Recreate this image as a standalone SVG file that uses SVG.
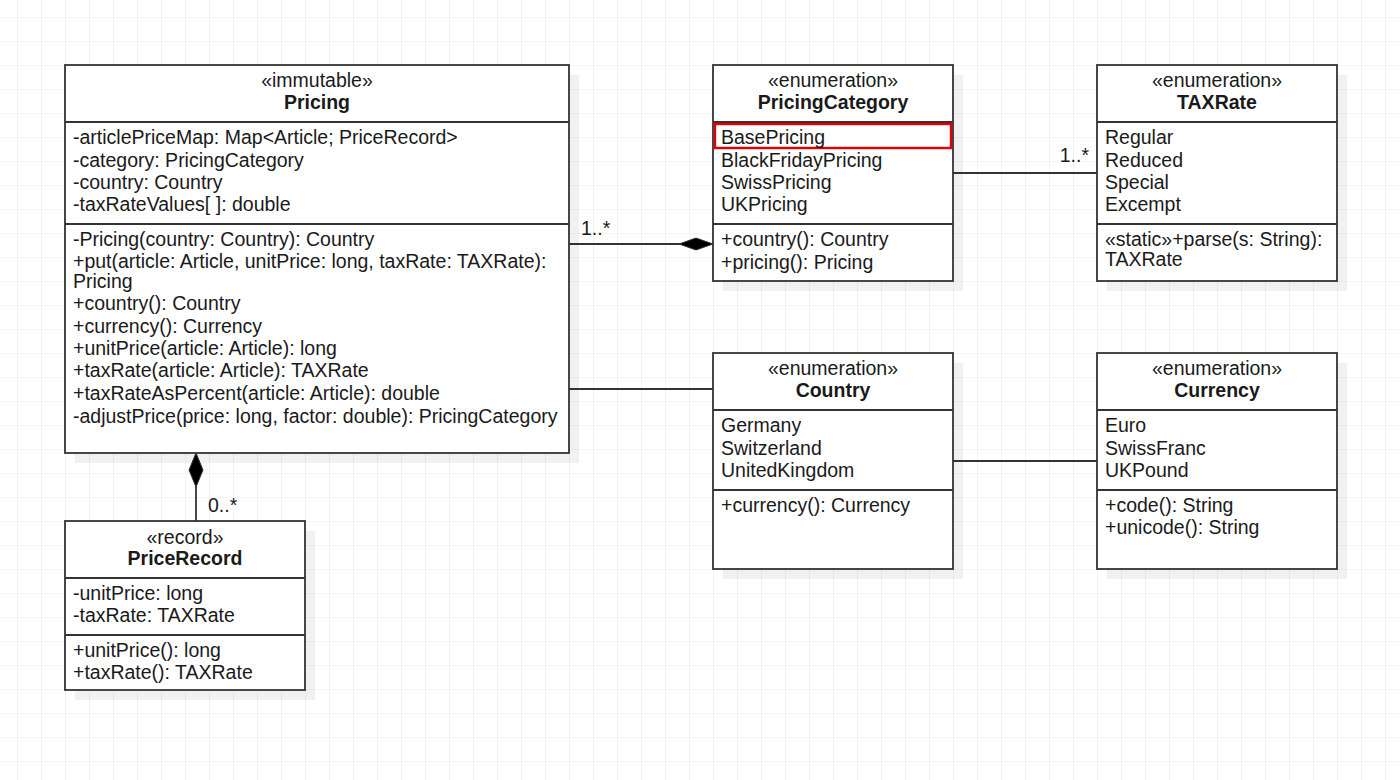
<svg xmlns="http://www.w3.org/2000/svg" width="1400" height="780" viewBox="0 0 1400 780">
<defs>
<pattern id="grid" x="17" y="17" width="24" height="24" patternUnits="userSpaceOnUse">
<path d="M0 0 H24 M0 0 V24" fill="none" stroke="#ebebeb" stroke-width="1.2"/>
</pattern>
<style>
text{font-family:"Liberation Sans",Arial,sans-serif;font-size:19.5px;fill:#1a1a1a}
.c{text-anchor:middle}
.b{font-weight:bold}
.box{fill:#fff;stroke:#333;stroke-width:1.8}
.sh{fill:#000;fill-opacity:0.055}
.sep{stroke:#333;stroke-width:1.8}
.ln{stroke:#333;stroke-width:1.8;fill:none}
.dia{fill:#000;stroke:#333;stroke-width:1}
</style>
</defs>
<rect width="1400" height="780" fill="#fff"/>
<rect width="1400" height="780" fill="url(#grid)"/>

<g id="connectors">
<line class="ln" x1="569" y1="244" x2="680" y2="244"/>
<polygon class="dia" points="713,244 696,238 679,244 696,250"/>
<text x="581" y="235">1..*</text>
<line class="ln" x1="953" y1="173" x2="1097" y2="173"/>
<text x="1089" y="162" text-anchor="end">1..*</text>
<line class="ln" x1="569" y1="389" x2="713" y2="389"/>
<line class="ln" x1="953" y1="461" x2="1097" y2="461"/>
<line class="ln" x1="196" y1="486" x2="196" y2="521"/>
<polygon class="dia" points="196,453 203,470 196,487 189,470"/>
<text x="208" y="511.5">0..*</text>
</g>

<g id="Pricing">
<rect class="sh" x="75" y="75" width="504" height="388"/>
<rect class="box" x="65" y="65" width="504" height="388"/>
<text class="c" x="317" y="87">«immutable»</text>
<text class="c b" x="317" y="109">Pricing</text>
<line class="sep" x1="65" y1="122" x2="569" y2="122"/>
<text x="73" y="144">-articlePriceMap: Map&lt;Article; PriceRecord&gt;</text>
<text x="73" y="166.5">-category: PricingCategory</text>
<text x="73" y="189">-country: Country</text>
<text x="73" y="211">-taxRateValues[ ]: double</text>
<line class="sep" x1="65" y1="224" x2="569" y2="224"/>
<text x="73" y="246">-Pricing(country: Country): Country</text>
<text x="73" y="268">+put(article: Article, unitPrice: long, taxRate: TAXRate):</text>
<text x="73" y="288">Pricing</text>
<text x="73" y="310">+country(): Country</text>
<text x="73" y="333">+currency(): Currency</text>
<text x="73" y="355">+unitPrice(article: Article): long</text>
<text x="73" y="377">+taxRate(article: Article): TAXRate</text>
<text x="73" y="400">+taxRateAsPercent(article: Article): double</text>
<text x="73" y="422.5">-adjustPrice(price: long, factor: double): PricingCategory</text>
</g>

<g id="PricingCategory">
<rect class="sh" x="723" y="75" width="240" height="216"/>
<rect class="box" x="713" y="65" width="240" height="216"/>
<text class="c" x="833" y="87">«enumeration»</text>
<text class="c b" x="833" y="109">PricingCategory</text>
<line class="sep" x1="713" y1="122" x2="953" y2="122"/>
<rect x="715" y="124" width="236" height="24" fill="none" stroke="#e00000" stroke-width="2.4"/>
<text x="721" y="144">BasePricing</text>
<text x="721" y="166.5">BlackFridayPricing</text>
<text x="721" y="189">SwissPricing</text>
<text x="721" y="211">UKPricing</text>
<line class="sep" x1="713" y1="224" x2="953" y2="224"/>
<text x="721" y="246">+country(): Country</text>
<text x="721" y="268.5">+pricing(): Pricing</text>
</g>

<g id="TAXRate">
<rect class="sh" x="1107" y="75" width="240" height="216"/>
<rect class="box" x="1097" y="65" width="240" height="216"/>
<text class="c" x="1217" y="87">«enumeration»</text>
<text class="c b" x="1217" y="109">TAXRate</text>
<line class="sep" x1="1097" y1="122" x2="1337" y2="122"/>
<text x="1105" y="144">Regular</text>
<text x="1105" y="166.5">Reduced</text>
<text x="1105" y="189">Special</text>
<text x="1105" y="211">Excempt</text>
<line class="sep" x1="1097" y1="224" x2="1337" y2="224"/>
<text x="1105" y="246">«static»+parse(s: String):</text>
<text x="1105" y="266">TAXRate</text>
</g>

<g id="Country">
<rect class="sh" x="723" y="363" width="240" height="216"/>
<rect class="box" x="713" y="353" width="240" height="216"/>
<text class="c" x="833" y="375">«enumeration»</text>
<text class="c b" x="833" y="397">Country</text>
<line class="sep" x1="713" y1="410" x2="953" y2="410"/>
<text x="721" y="432">Germany</text>
<text x="721" y="454.5">Switzerland</text>
<text x="721" y="477">UnitedKingdom</text>
<line class="sep" x1="713" y1="490" x2="953" y2="490"/>
<text x="721" y="511.5">+currency(): Currency</text>
</g>

<g id="Currency">
<rect class="sh" x="1107" y="363" width="240" height="216"/>
<rect class="box" x="1097" y="353" width="240" height="216"/>
<text class="c" x="1217" y="375">«enumeration»</text>
<text class="c b" x="1217" y="397">Currency</text>
<line class="sep" x1="1097" y1="410" x2="1337" y2="410"/>
<text x="1105" y="432">Euro</text>
<text x="1105" y="454.5">SwissFranc</text>
<text x="1105" y="477">UKPound</text>
<line class="sep" x1="1097" y1="490" x2="1337" y2="490"/>
<text x="1105" y="511.5">+code(): String</text>
<text x="1105" y="534">+unicode(): String</text>
</g>

<g id="PriceRecord">
<rect class="sh" x="75" y="531" width="240" height="169"/>
<rect class="box" x="65" y="521" width="240" height="169"/>
<text class="c" x="185" y="543.5">«record»</text>
<text class="c b" x="185" y="565">PriceRecord</text>
<line class="sep" x1="65" y1="578" x2="305" y2="578"/>
<text x="73" y="600">-unitPrice: long</text>
<text x="73" y="622">-taxRate: TAXRate</text>
<line class="sep" x1="65" y1="635" x2="305" y2="635"/>
<text x="73" y="657">+unitPrice(): long</text>
<text x="73" y="679">+taxRate(): TAXRate</text>
</g>
</svg>
